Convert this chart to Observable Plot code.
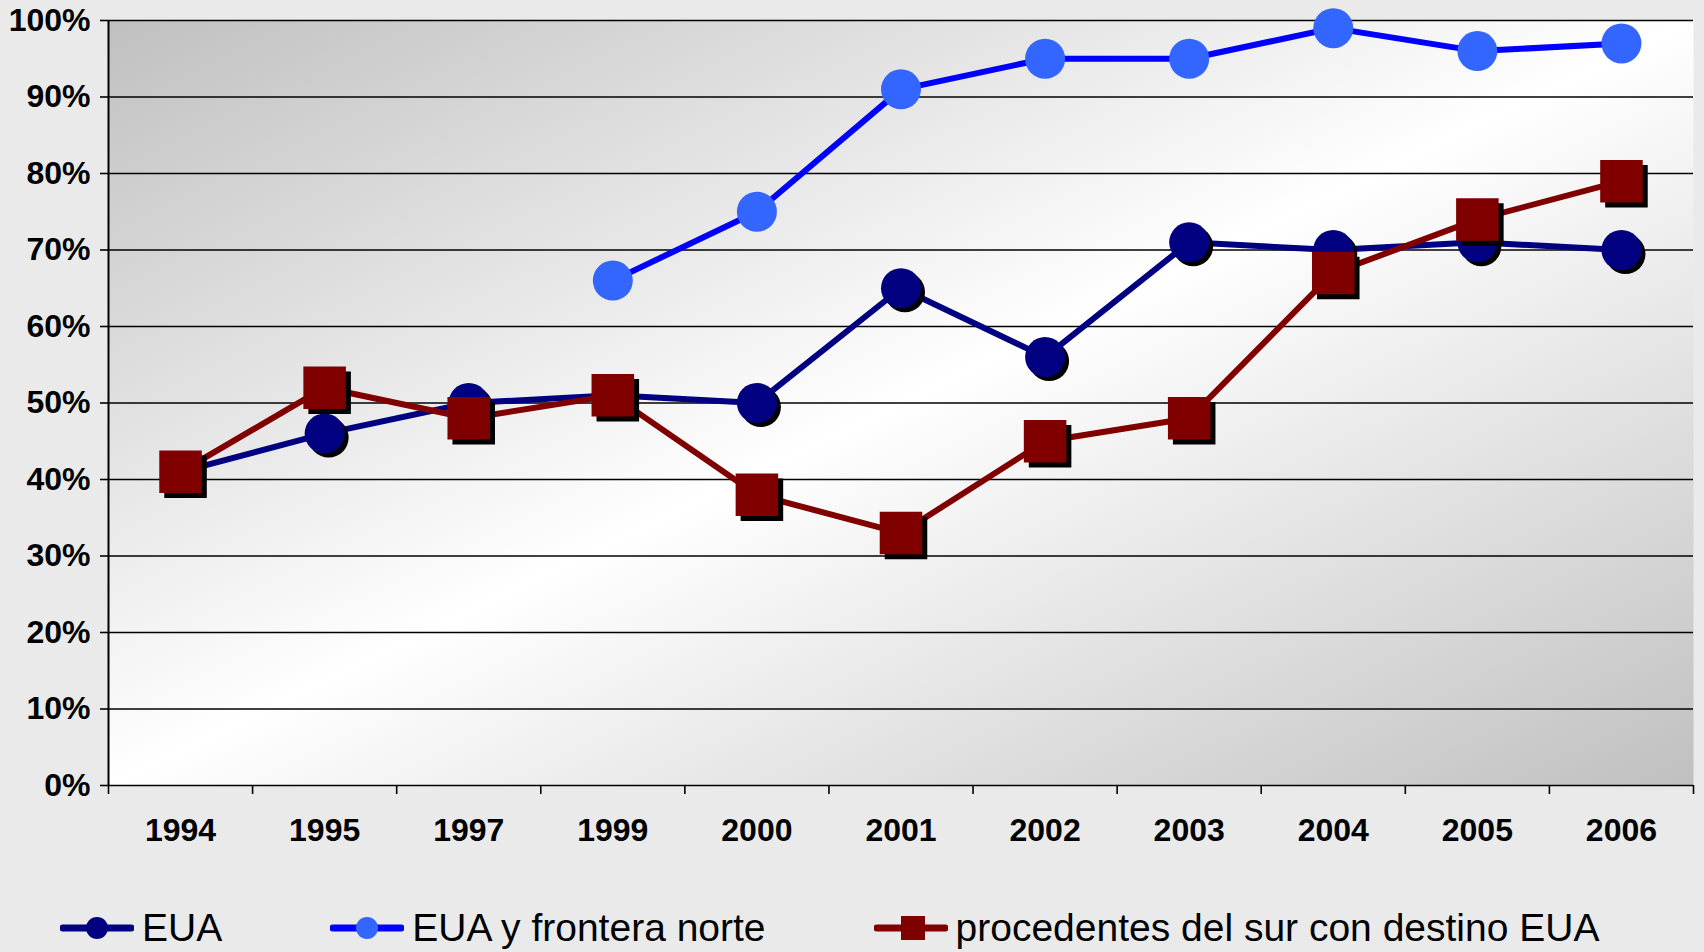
<!DOCTYPE html>
<html>
<head>
<meta charset="utf-8">
<script src="https://cdn.jsdelivr.net/npm/d3@7"></script>
<script src="https://cdn.jsdelivr.net/npm/@observablehq/plot@0.6"></script>
<style>
  html, body { margin: 0; padding: 0; background: #EAEAEA; }
  body { width: 1704px; height: 952px; overflow: hidden; font-family: "Liberation Sans", Arial, sans-serif; }
  #chart svg { display: block; }
  #legend { display: flex; align-items: center; height: 48px; padding-top: 34px; padding-left: 60px; gap: 108px; font-size: 39px; color: #000; }
  .item { display: flex; align-items: center; gap: 8px; white-space: nowrap; }
  .item svg { display: block; }
</style>
</head>
<body>
<div id="chart"></div>
<div id="legend"></div>
<script>
const years = ["1994", "1995", "1997", "1999", "2000", "2001", "2002", "2003", "2004", "2005", "2006"];
const eua = [41, 46, 50, 51, 50, 65, 56, 71, 70, 71, 70];
const euaFronteraNorte = [null, null, null, 66, 75, 91, 95, 95, 99, 96, 97];
const procedentesSur = [41, 52, 48, 51, 38, 33, 45, 48, 67, 74, 79];
const yTicks = [0, 10, 20, 30, 40, 50, 60, 70, 80, 90, 100];
const seriesNames = ["EUA", "EUA y frontera norte", "procedentes del sur con destino EUA"];

const toRows = (vals, name) => vals.map((v, i) => ({series: name, i, year: years[i], value: v})).filter(d => d.value != null);
const rEua = toRows(eua, seriesNames[0]);
const rNorte = toRows(euaFronteraNorte, seriesNames[1]);
const rSur = toRows(procedentesSur, seriesNames[2]);
const xc = d => d.i + 0.5;

const chart = Plot.plot({
  width: 1704,
  height: 870,
  marginLeft: 108,
  marginRight: 11,
  marginTop: 20,
  marginBottom: 85,
  x: {domain: [0, years.length]},
  y: {domain: [0, 100]},
  style: {background: "transparent", fontFamily: "'Liberation Sans', Arial, sans-serif", fontSize: "32px", fontWeight: "bold", color: "#000"},
  marks: [
    Plot.frame({fill: "url(#plotbg)", stroke: null}),
    Plot.gridY(yTicks, {stroke: "#000", strokeOpacity: 1, strokeWidth: 1.6}),
    Plot.axisY(yTicks, {tickFormat: d => d + "%", tickSize: 8, tickPadding: 10, strokeWidth: 1.6, label: null}),
    Plot.ruleX([0], {y1: 0, y2: 100, stroke: "#000", strokeWidth: 2}),
    Plot.axisX(d3.range(years.length + 1), {tickSize: 9, tickFormat: () => "", strokeWidth: 1.6, label: null}),
    Plot.axisX(years.map((y, i) => i + 0.5), {tickSize: 0, tickPadding: 33, tickFormat: d => years[Math.round(d - 0.5)], label: null}),
    // EUA
    Plot.line(rEua, {x: xc, y: "value", stroke: "#000080", strokeWidth: 6}),
    Plot.dot(rEua, {x: xc, y: "value", r: 20, fill: "#000", dx: 4, dy: 4}),
    Plot.dot(rEua, {x: xc, y: "value", r: 20, fill: "#000080"}),
    // EUA y frontera norte
    Plot.line(rNorte, {x: xc, y: "value", stroke: "#0000FF", strokeWidth: 6}),
    Plot.dot(rNorte, {x: xc, y: "value", r: 20, fill: "#3366FF"}),
    // procedentes del sur
    Plot.line(rSur, {x: xc, y: "value", stroke: "#800000", strokeWidth: 6}),
    Plot.dot(rSur, {x: xc, y: "value", r: 24, symbol: "square", fill: "#000", dx: 5, dy: 5}),
    Plot.dot(rSur, {x: xc, y: "value", r: 24, symbol: "square", fill: "#800000"})
  ]
});

const defs = d3.select(chart).insert("defs", ":first-child");
const grad = defs.append("linearGradient").attr("id", "plotbg")
  .attr("x1", 0).attr("y1", 0).attr("x2", 1).attr("y2", 1);
grad.append("stop").attr("offset", "0").attr("stop-color", "#c0c0c0");
grad.append("stop").attr("offset", "0.5").attr("stop-color", "#ffffff");
grad.append("stop").attr("offset", "1").attr("stop-color", "#c0c0c0");

document.getElementById("chart").appendChild(chart);

// Legend
const legendSpecs = [
  {name: seriesNames[0], line: "#000080", marker: "#000080", shape: "circle"},
  {name: seriesNames[1], line: "#0000FF", marker: "#3366FF", shape: "circle"},
  {name: seriesNames[2], line: "#800000", marker: "#800000", shape: "square"}
];
const legend = d3.select("#legend");
for (const s of legendSpecs) {
  const item = legend.append("div").attr("class", "item");
  const sw = item.append("svg").attr("width", 74).attr("height", 30);
  sw.append("line").attr("x1", 3).attr("x2", 71).attr("y1", 15).attr("y2", 15)
    .attr("stroke", s.line).attr("stroke-width", 7).attr("stroke-linecap", "round");
  if (s.shape === "circle") {
    sw.append("circle").attr("cx", 37).attr("cy", 15).attr("r", 11).attr("fill", s.marker);
  } else {
    sw.append("rect").attr("x", 27).attr("y", 3).attr("width", 24).attr("height", 24).attr("fill", s.marker);
  }
  item.append("span").text(s.name);
}
</script>
</body>
</html>
